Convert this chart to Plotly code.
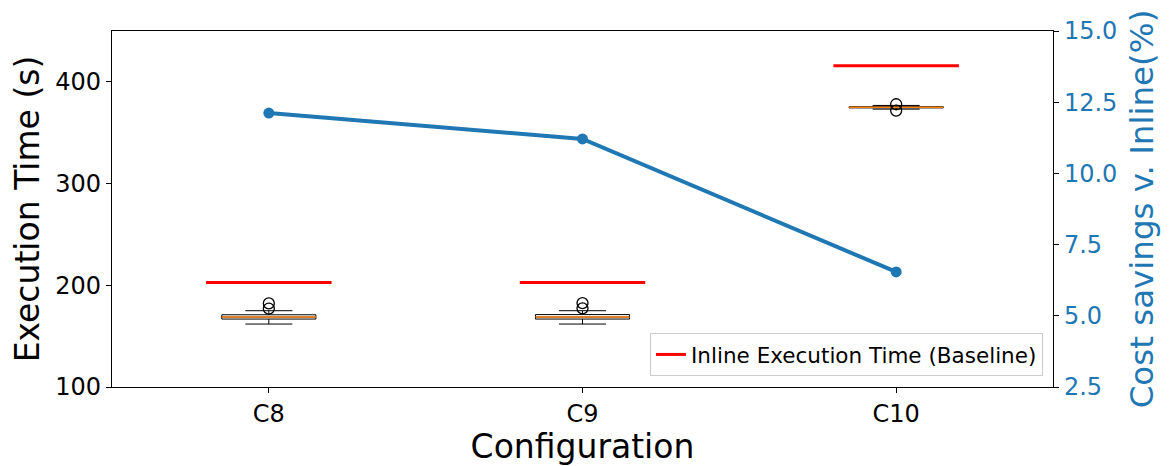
import plotly.graph_objects as go

# ---- data ----
categories = ["C8", "C9", "C10"]
cat_pos = [1, 2, 3]
baseline_time = [202.7, 202.7, 415.9]
q1_vals = [166.8, 166.8, 374.4]
median_vals = [168.8, 168.8, 375.0]
q3_vals = [171.0, 171.2, 375.6]
lower_fence = [161.9, 161.9, 373.2]
upper_fence = [175.0, 175.0, 376.8]
outlier_cat = [1, 1, 2, 2, 3, 3]
outlier_vals = [182.2, 177.0, 182.5, 177.3, 378.0, 371.8]
cost_savings = [12.12, 11.21, 6.54]

BOX_W = 0.3
BASE_W = 0.4
FONT = "DejaVu Sans"
BLUE = "#1f77b4"

fig = go.Figure()

# boxes
fig.add_trace(go.Box(
    x=cat_pos, q1=q1_vals, median=median_vals, q3=q3_vals,
    lowerfence=lower_fence, upperfence=upper_fence,
    boxpoints=False, width=BOX_W, whiskerwidth=0.5,
    line=dict(color="black", width=1), fillcolor="rgba(0,0,0,0)",
    showlegend=False, hoverinfo="skip"))

# medians (orange)
for c, m in zip(cat_pos, median_vals):
    fig.add_trace(go.Scatter(x=[c - BOX_W / 2, c + BOX_W / 2], y=[m, m], mode="lines",
                             line=dict(color="#ff7f0e", width=1.5), showlegend=False,
                             hoverinfo="skip"))

# outliers
fig.add_trace(go.Scatter(x=outlier_cat, y=outlier_vals, mode="markers",
                         marker=dict(symbol="circle-open", size=11, color="black",
                                     line=dict(width=1.3, color="black")),
                         showlegend=False))

# baseline red lines
for i, (c, b) in enumerate(zip(cat_pos, baseline_time)):
    fig.add_trace(go.Scatter(x=[c - BASE_W / 2, c + BASE_W / 2], y=[b, b], mode="lines",
                             line=dict(color="red", width=3),
                             name="Inline Execution Time (Baseline)",
                             showlegend=(i == 0), legendgroup="base"))

# cost savings line
fig.add_trace(go.Scatter(x=cat_pos, y=cost_savings, mode="lines+markers", yaxis="y2",
                         line=dict(color=BLUE, width=4), marker=dict(size=11, color=BLUE),
                         showlegend=False))

fig.update_layout(
    width=1161, height=458,
    margin=dict(l=104, r=116, t=23, b=79),
    paper_bgcolor="white", plot_bgcolor="white",
    font=dict(family=FONT, color="black"),
    boxmode="overlay",
    xaxis=dict(range=[0.5, 3.5], tickvals=cat_pos, ticktext=categories,
               automargin=False,
               showgrid=False, zeroline=False, showline=True, linecolor="black",
               linewidth=1.2, mirror=True, ticks="outside", ticklen=5,
               tickcolor="black", tickfont=dict(size=24),
               title=dict(text="Configuration", font=dict(size=33), standoff=0)),
    yaxis=dict(range=[100, 450], tickvals=[100, 200, 300, 400], showgrid=False,
               automargin=False,
               zeroline=False, showline=True, linecolor="black", linewidth=1.2,
               ticks="outside", ticklen=5, tickcolor="black", tickfont=dict(size=24),
               title=dict(text="Execution Time (s)", font=dict(size=33), standoff=18)),
    yaxis2=dict(range=[2.5, 15.0], tickvals=[2.5, 5.0, 7.5, 10.0, 12.5, 15.0],
                automargin=False,
                tickformat=".1f", overlaying="y", side="right", showgrid=False,
                zeroline=False, showline=True, linecolor="black", linewidth=1.2,
                ticks="outside", ticklen=5, tickcolor="black",
                tickfont=dict(size=24, color=BLUE),
                title=dict(text="Cost savings v. Inline(%)", font=dict(size=32.5, color=BLUE),
                           standoff=13)),
    legend=dict(x=0.9894, y=0.031, xanchor="right", yanchor="bottom",
                bordercolor="#cccccc", borderwidth=1, bgcolor="rgba(255,255,255,0.8)",
                font=dict(size=21.5)),
)

fig.write_html("out.html")
